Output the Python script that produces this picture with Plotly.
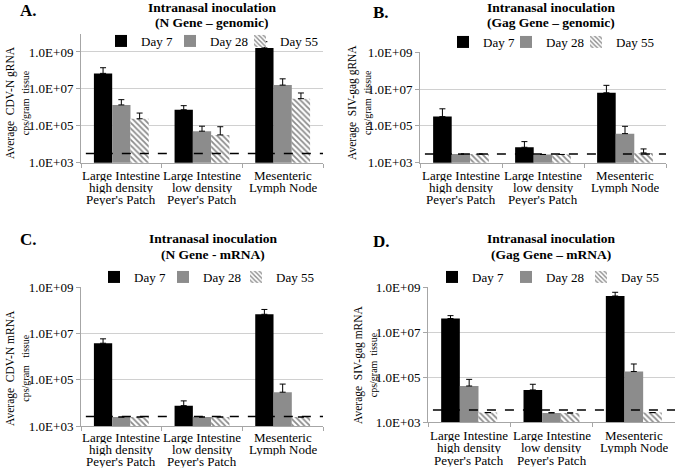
import plotly.graph_objects as go

category_lines = [["Large Intestine", "high density", "Peyer's Patch"],
                  ["Large Intestine", "low density", "Peyer's Patch"],
                  ["Mesenteric", "Lymph Node"]]
categories = ["<br>".join(c) for c in category_lines]
days = ["Day 7", "Day 28", "Day 55"]

# Panel A: CDV N gene genomic
a_day7 = [6.9e7, 7.4e5, 1.66e9]
a_day28 = [1.35e6, 5.1e4, 1.6e7]
a_day55 = [2.4e5, 3.2e4, 2.95e6]
a_err7 = [7.1e7, 4.9e5, 1.94e9]
a_err28 = [1.25e6, 4.4e4, 1.9e7]
a_err55 = [2.5e5, 5.7e4, 3.05e6]
a_lod = 3.2e3

# Panel B: SIV gag genomic
b_day7 = [3.2e5, 6.9e3, 6.3e6]
b_day28 = [2.95e3, 2.8e3, 3.8e4]
b_day55 = [2.95e3, 2.8e3, 3.4e3]
b_err7 = [5.3e5, 7.1e3, 9.7e6]
b_err28 = [None, None, 5.7e4]
b_err55 = [None, None, 2.2e3]
b_lod = 2.95e3

# Panel C: CDV N gene mRNA
c_day7 = [3.8e6, 7.6e3, 6.8e7]
c_day28 = [2.45e3, 2.45e3, 2.9e4]
c_day55 = [2.45e3, 2.45e3, 2.45e3]
c_err7 = [2.1e6, 4.6e3, 4.2e7]
c_err28 = [None, None, 3.6e4]
c_err55 = [None, None, None]
c_lod = 2.6e3

# Panel D: SIV gag mRNA
d_day7 = [4.1e7, 2.75e4, 4.1e8]
d_day28 = [4.1e4, 2.6e3, 1.8e5]
d_day55 = [2.7e3, 2.6e3, 2.7e3]
d_err7 = [1.4e7, 2.15e4, 1.9e8]
d_err28 = [4.0e4, 1e2, 2.1e5]
d_err55 = [None, None, None]
d_lod = 3.5e3

tick_vals = [1e3, 1e5, 1e7, 1e9]
tick_text = ["1.0E+03", "1.0E+05", "1.0E+07", "1.0E+09"]

panel_letters = ["A.", "B.", "C.", "D."]
panel_titles = [("Intranasal inoculation", "(N Gene \u2013 genomic)"),
                ("Intranasal inoculation", "(Gag Gene \u2013 genomic)"),
                ("Intranasal inoculation", "(N Gene - mRNA)"),
                ("Intranasal inoculation", "(Gag Gene \u2013 mRNA)")]
y_titles = [("Average  CDV-N gRNA", "cps/gram  tissue"),
            ("Average  SIV-gag gRNA", "cps/gram  tissue"),
            ("Average  CDV-N mRNA", "cps/gram   tissue"),
            ("Average  SIV-gag mRNA", "cps/gram  tissue")]

W, H = 678, 470
SERIF = "Liberation Serif, Times New Roman, serif"

panels = [
    dict(vals=[a_day7, a_day28, a_day55], errs=[a_err7, a_err28, a_err55], lod=a_lod,
         px=(81, 323), py=(33.5, 162.7), yr=[3, 10],
         letter=(28, 11), title=(212, 7, 22.5), ytitle=(17, 103),
         leg_y=41, leg_x=(138, 207, 277), lab_y=(175, 187.5, 200)),
    dict(vals=[b_day7, b_day28, b_day55], errs=[b_err7, b_err28, b_err55], lod=b_lod,
         px=(420, 666), py=(52.3, 162.7), yr=[3, 9],
         letter=(381, 12), title=(551, 7, 22.5), ytitle=(359, 103),
         leg_y=42, leg_x=(480, 543, 613), lab_y=(175, 187.5, 200)),
    dict(vals=[c_day7, c_day28, c_day55], errs=[c_err7, c_err28, c_err55], lod=c_lod,
         px=(81, 323), py=(287.3, 426), yr=[3, 9],
         letter=(28, 240), title=(213, 238, 254), ytitle=(17, 368),
         leg_y=277, leg_x=(131, 200, 273), lab_y=(437, 449.5, 461.5)),
    dict(vals=[d_day7, d_day28, d_day55], errs=[d_err7, d_err28, d_err55], lod=d_lod,
         px=(428, 675), py=(287.3, 422.3), yr=[3, 9],
         letter=(381, 242), title=(551, 238, 254), ytitle=(365, 365),
         leg_y=277, leg_x=(469, 543, 618), lab_y=(435, 447.5, 460)),
]

fill_colors = ["#000000", "#8c8c8c", "#8c8c8c"]

fig = go.Figure()
layout = dict(width=W, height=H, margin=dict(l=0, r=0, t=0, b=0, autoexpand=False),
              paper_bgcolor="white", plot_bgcolor="white",
              barmode="group", bargap=0.32, bargroupgap=0,
              font=dict(family=SERIF, color="black"), showlegend=True)
annotations = []
shapes = []


def text_line(text, x, y, size, xref="paper", bold=False, height=None):
    a = dict(text=("<b>" + text + "</b>") if bold else text, xref=xref, yref="paper",
             x=x, y=1 - y / H, xanchor="center", yanchor="middle", showarrow=False,
             borderpad=0, font=dict(family=SERIF, size=size, color="black"))
    if height is not None:
        a["height"] = height
    return a


for i, p in enumerate(panels):
    n = "" if i == 0 else str(i + 1)
    xa, ya = "x" + n, "y" + n
    for j, day in enumerate(days):
        k = i * 3 + j + 1
        lg = "legend" if k == 1 else "legend" + str(k)
        marker = dict(color=fill_colors[j], line=dict(width=0))
        if j == 2:
            marker["pattern"] = dict(shape="\\", fgcolor="#8c8c8c", bgcolor="white",
                                     size=4, solidity=0.45, fillmode="replace")
        fig.add_trace(go.Bar(
            x=categories, y=p["vals"][j], name=day, xaxis=xa, yaxis=ya,
            marker=marker, legend=lg,
            error_y=dict(type="data", symmetric=False, array=p["errs"][j],
                         arrayminus=[0, 0, 0], color="black", thickness=1, width=3),
        ))
        layout[lg] = dict(orientation="h", x=(p["leg_x"][j] - 37) / W,
                          y=1 - p["leg_y"] / H, xanchor="left", yanchor="middle",
                          bgcolor="rgba(0,0,0,0)",
                          font=dict(family=SERIF, size=13, color="black"),
                          itemwidth=30)
    x0, x1 = p["px"]
    y0, y1 = p["py"]
    layout["xaxis" + n] = dict(domain=[x0 / W, x1 / W], anchor=ya, type="category",
                               showline=True, linecolor="#a6a6a6", linewidth=1,
                               ticks="outside", tickson="boundaries", ticklen=4,
                               tickcolor="#a6a6a6", showgrid=False,
                               showticklabels=False, automargin=False)
    layout["yaxis" + n] = dict(domain=[1 - y1 / H, 1 - y0 / H], anchor=xa, type="log",
                               range=p["yr"], tickvals=tick_vals, ticktext=tick_text,
                               showline=True, linecolor="#a6a6a6", linewidth=1,
                               ticks="outside", ticklen=4, tickcolor="#a6a6a6",
                               showgrid=True, gridcolor="#d0d0d0", gridwidth=1,
                               zeroline=False, automargin=False,
                               tickfont=dict(family=SERIF, size=13, color="black"))
    # category labels, one text per line
    for c, lines in enumerate(category_lines):
        for li, line in enumerate(lines):
            annotations.append(text_line(line, categories[c], p["lab_y"][li], 13,
                                         xref=xa, height=12.5))
    shapes.append(dict(type="line", xref=xa + " domain", yref=ya,
                       x0=0.02, x1=1, y0=p["lod"], y1=p["lod"],
                       line=dict(color="black", width=1.5, dash="dash")))
    annotations.append(text_line(panel_letters[i], p["letter"][0] / W, p["letter"][1],
                                 17, bold=True))
    tx, ty1, ty2 = p["title"]
    annotations.append(text_line(panel_titles[i][0], tx / W, ty1, 13.5, bold=True,
                                 height=14))
    annotations.append(text_line(panel_titles[i][1], tx / W, ty2, 13.5, bold=True,
                                 height=15))
    yt1, yt2 = y_titles[i]
    annotations.append(dict(text=yt1 + "<br><span style='font-size:10px'>" + yt2 + "</span>",
                            xref="paper", yref="paper",
                            x=p["ytitle"][0] / W, y=1 - p["ytitle"][1] / H,
                            xanchor="center", yanchor="middle",
                            textangle=-90, showarrow=False,
                            font=dict(family=SERIF, size=11.5)))

layout["annotations"] = annotations
layout["shapes"] = shapes
fig.update_layout(**layout)
fig.write_html("out.html", config={"displayModeBar": False},
               post_script="document.body.style.margin='0px';")
